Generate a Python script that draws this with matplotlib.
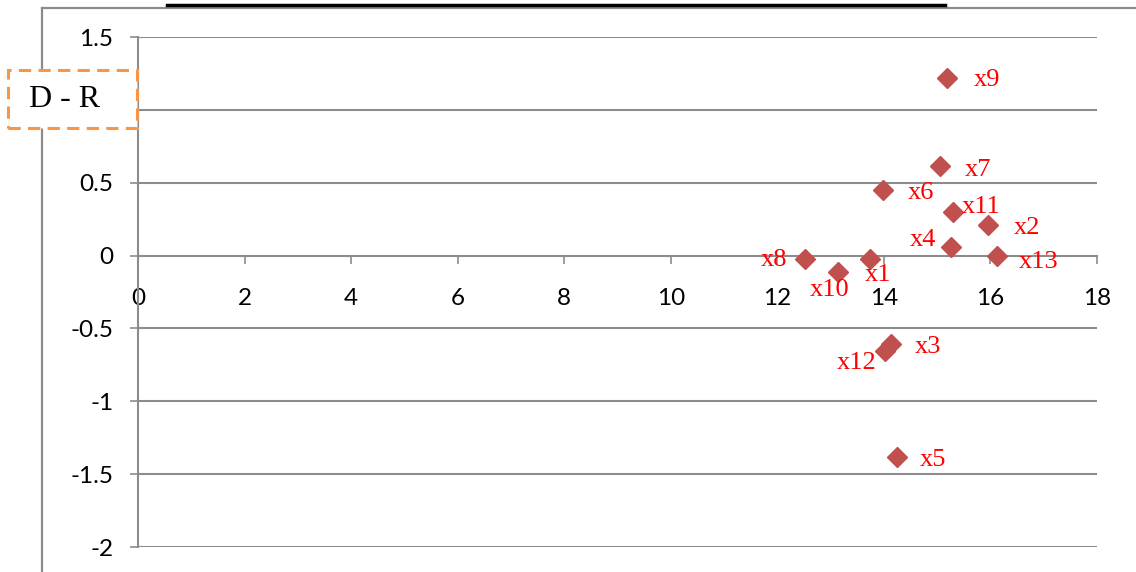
import matplotlib
matplotlib.use('Agg')
import matplotlib.pyplot as plt
from matplotlib.lines import Line2D
from matplotlib.patches import Rectangle

# data
names = ['x1', 'x2', 'x3', 'x4', 'x5', 'x6', 'x7', 'x8', 'x9', 'x10', 'x11', 'x12', 'x13']
x_vals = [13.74, 15.96, 14.13, 15.26, 14.24, 13.99, 15.05, 12.51, 15.18, 13.14, 15.29, 14.02, 16.13]
y_vals = [-0.023, 0.21, -0.607, 0.061, -1.384, 0.45, 0.615, -0.023, 1.218, -0.11, 0.301, -0.653, -0.003]

x_ticks = [0, 2, 4, 6, 8, 10, 12, 14, 16, 18]
y_ticks = [-2, -1.5, -1, -0.5, 0, 0.5, 1, 1.5]
y_labels = ['-2', '-1.5', '-1', '-0.5', '0', '0.5', '', '1.5']

# label offsets in pixels (dx, dy) relative to the marker
label_offsets = {
    'x1': (8, -16), 'x2': (39, -3), 'x3': (37, -3), 'x4': (-28, 7),
    'x5': (36, -3), 'x6': (38, -3), 'x7': (38, -4), 'x8': (-30, -1),
    'x9': (40, -2), 'x10': (-8, -18), 'x11': (29, 5), 'x12': (-28, -12),
    'x13': (41, -6),
}

W, H = 1136, 572
GRID = '#8C8C8C'
MARK = '#C0504D'

fig = plt.figure(figsize=(W / 100, H / 100), dpi=100, facecolor='white')
ax = fig.add_axes([138 / W, 1 - 547 / H, (1097 - 138) / W, (547 - 37) / H])

ax.set_xlim(0, 18)
ax.set_ylim(-2, 1.5)

# horizontal gridlines
for y in y_ticks:
    if y != 0:
        ax.axhline(y, color=GRID, lw=1.5, zorder=1)

for s in ['top', 'right']:
    ax.spines[s].set_visible(False)
ax.spines['left'].set_color(GRID)
ax.spines['left'].set_linewidth(1.5)
ax.spines['bottom'].set_position(('data', 0))
ax.spines['bottom'].set_color(GRID)
ax.spines['bottom'].set_linewidth(1.5)

ax.set_xticks(x_ticks)
ax.set_xticklabels([str(t) for t in x_ticks])
ax.set_yticks(y_ticks)
ax.set_yticklabels(y_labels)
ax.tick_params(axis='x', direction='out', length=5.5, width=1.2, color=GRID, pad=18,
               labelsize=17.5, labelcolor='black')
ax.tick_params(axis='y', direction='out', length=5.8, width=1.2, color=GRID, pad=12,
               labelsize=17.5, labelcolor='black')
for lab in ax.get_xticklabels() + ax.get_yticklabels():
    lab.set_fontfamily('Lato')

ax.plot(x_vals, y_vals, linestyle='none', marker='D', ms=10, color=MARK,
        markeredgecolor=MARK, zorder=3, clip_on=False)

for n, x, y in zip(names, x_vals, y_vals):
    dx, dy = label_offsets[n]
    ax.annotate(n, (x, y), xytext=(dx, dy), textcoords='offset pixels',
                ha='center', va='center', color='red', fontsize=19,
                family='Liberation Serif', zorder=4)

# outer chart frame and the black line from the page above
fig.add_artist(Line2D([42 / W, 42 / W], [0, 1 - 8 / H], color=GRID, lw=1.6, zorder=0))
fig.add_artist(Line2D([42 / W, 1], [1 - 8 / H, 1 - 8 / H], color=GRID, lw=1.6, zorder=0))
fig.add_artist(Line2D([167 / W, 945 / W], [1 - 5 / H, 1 - 5 / H], color='black', lw=2.5, zorder=1))

# "D - R" axis title box
box = Rectangle((8 / W, 1 - 128 / H), (137 - 8) / W, (128 - 70) / H,
                transform=fig.transFigure, facecolor='white', edgecolor='#F79646',
                lw=2.2, linestyle=(0, (4, 2.4)), zorder=5)
fig.add_artist(box)
fig.text(65 / W, 1 - 99 / H, 'D - R', ha='center', va='center', fontsize=23,
         family='Liberation Serif', color='black', zorder=6)

fig.savefig('out.png', dpi=100, facecolor='white')
